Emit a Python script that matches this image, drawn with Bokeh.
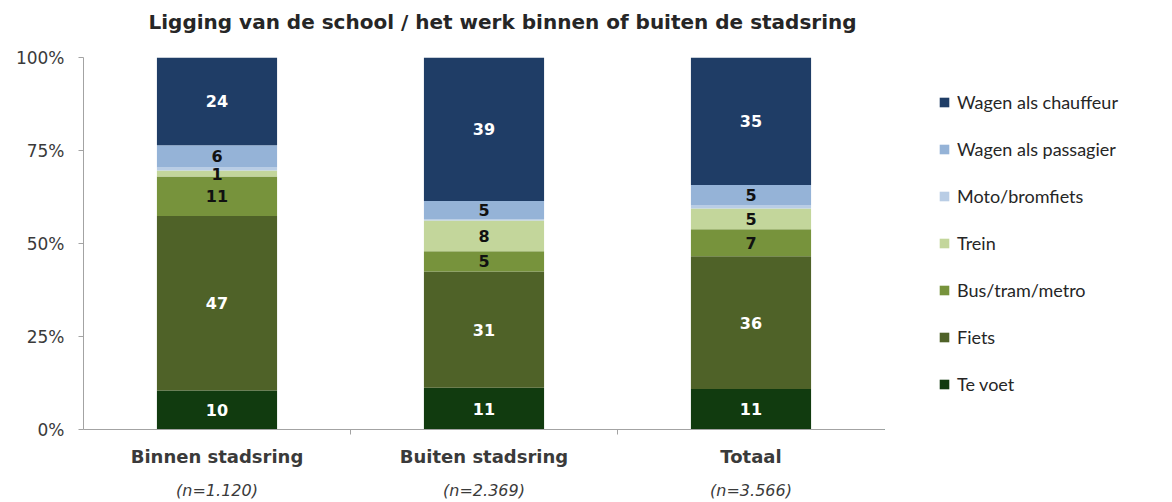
from bokeh.plotting import figure
from bokeh.layouts import row
from bokeh.models import (ColumnDataSource, FixedTicker, LinearAxis, Legend, LegendItem, Range1d, Title)
from bokeh.core.properties import value
from bokeh.embed import file_html
from bokeh.resources import INLINE

# ---- data (percent shares) ----
categories = ["Binnen stadsring", "Buiten stadsring", "Totaal"]
sample_sizes = ["(n=1.120)", "(n=2.369)", "(n=3.566)"]
modes = ["Te voet", "Fiets", "Bus/tram/metro", "Trein", "Moto/bromfiets",
         "Wagen als passagier", "Wagen als chauffeur"]

te_voet = [10.5, 11.2, 10.9]
fiets = [46.9, 31.3, 35.7]
bus_tram_metro = [10.6, 5.4, 7.2]
trein = [1.6, 8.3, 5.6]
moto_bromfiets = [0.8, 0.3, 0.8]
wagen_passagier = [6.0, 4.9, 5.5]
wagen_chauffeur = [23.6, 38.6, 34.3]

# labels printed inside the segments ("" = no label shown)
lbl_te_voet = ["10", "11", "11"]
lbl_fiets = ["47", "31", "36"]
lbl_bus = ["11", "5", "7"]
lbl_trein = ["1", "8", "5"]
lbl_moto = ["", "", ""]
lbl_passagier = ["6", "5", "5"]
lbl_chauffeur = ["24", "39", "35"]

y_ticks = [0, 25, 50, 75, 100]
y_tick_labels = ["0%", "25%", "50%", "75%", "100%"]

colors = ["#113B0F", "#4F6228", "#77933C", "#C3D69B", "#B9CDE5", "#95B3D7", "#1F3D66"]
label_colors = ["#FFFFFF", "#FFFFFF", "#111111", "#111111", "#111111", "#111111", "#FFFFFF"]

series = [te_voet, fiets, bus_tram_metro, trein, moto_bromfiets, wagen_passagier, wagen_chauffeur]
series_labels = [lbl_te_voet, lbl_fiets, lbl_bus, lbl_trein, lbl_moto, lbl_passagier, lbl_chauffeur]

xpos = [i + 0.5 for i in range(len(categories))]
data = {"x": xpos}
for m, s in zip(modes, series):
    data[m] = s
source = ColumnDataSource(data)

AXIS_COLOR = "#A3A3A3"
TEXT_COLOR = "#3A3A3A"
FONT = "DejaVu Sans"

p = figure(width=884, height=502, x_range=Range1d(0, 3), y_range=Range1d(0, 100),
           output_backend="svg", toolbar_location=None, x_axis_type=None, y_axis_type=None,
           min_border_left=83, min_border_right=0, min_border_top=57, min_border_bottom=72)
p.outline_line_color = None
p.background_fill_color = "white"
p.border_fill_color = "white"

# title (outermost) with a blank spacer title between it and the plot area
p.title.text = "Ligging van de school / het werk binnen of buiten de stadsring"
p.title.align = "left"
p.title.offset = 65
p.title.text_font = FONT
p.title.text_font_size = "20px"
p.title.text_font_style = "bold"
p.title.text_color = "#262626"
p.title.standoff = 0
p.title.vertical_align = "bottom"
spacer = Title(text=" ", text_font=FONT, text_font_size="19px", standoff=0)
p.add_layout(spacer, "above")

renderers = p.vbar_stack(modes, x="x", width=0.45, color=colors, source=source, line_color=None)

# segment labels
tx, ty, tt, tc = [], [], [], []
bottoms = [0.0] * len(categories)
for s, labs, col in zip(series, series_labels, label_colors):
    for i, v in enumerate(s):
        if labs[i]:
            tx.append(xpos[i]); ty.append(bottoms[i] + v / 2.0); tt.append(labs[i]); tc.append(col)
        bottoms[i] += v
lsrc = ColumnDataSource(dict(x=tx, y=ty, t=tt, c=tc))
p.text(x="x", y="y", text="t", text_color="c", source=lsrc, text_font=value(FONT),
       text_font_size="16px", text_font_style="bold", text_align="center", text_baseline="middle")

# y axis
yax = LinearAxis(ticker=FixedTicker(ticks=y_ticks))
yax.major_label_overrides = {t: l for t, l in zip(y_ticks, y_tick_labels)}
yax.axis_line_color = AXIS_COLOR
yax.major_tick_line_color = AXIS_COLOR
yax.major_tick_in = 0
yax.major_tick_out = 5
yax.minor_tick_line_color = None
yax.major_label_standoff = 14
yax.major_label_text_font = FONT
yax.major_label_text_font_size = "17px"
yax.major_label_text_color = TEXT_COLOR
p.add_layout(yax, "left")

# x axis with category names (ticks between categories)
xax = LinearAxis(ticker=FixedTicker(ticks=xpos, minor_ticks=[1, 2]))
xax.major_label_overrides = {x: c for x, c in zip(xpos, categories)}
xax.axis_line_color = AXIS_COLOR
xax.major_tick_line_color = None
xax.major_tick_in = 0
xax.major_tick_out = 0
xax.minor_tick_line_color = AXIS_COLOR
xax.minor_tick_in = 0
xax.minor_tick_out = 5
xax.major_label_standoff = 11
xax.major_label_text_font = FONT
xax.major_label_text_font_size = "18px"
xax.major_label_text_font_style = "bold"
xax.major_label_text_color = TEXT_COLOR
p.add_layout(xax, "below")

# second x axis: sample sizes
nax = LinearAxis(ticker=FixedTicker(ticks=xpos))
nax.major_label_overrides = {x: n for x, n in zip(xpos, sample_sizes)}
nax.axis_line_color = None
nax.major_tick_line_color = None
nax.minor_tick_line_color = None
nax.major_tick_in = 0
nax.major_tick_out = 0
nax.major_label_standoff = 11
nax.major_label_text_font = FONT
nax.major_label_text_font_size = "16px"
nax.major_label_text_font_style = "italic"
nax.major_label_text_color = TEXT_COLOR
p.add_layout(nax, "below")

# grid
p.ygrid.ticker = FixedTicker(ticks=y_ticks)
p.ygrid.grid_line_color = AXIS_COLOR
p.ygrid.grid_line_width = 1
p.xgrid.grid_line_color = None

# legend panel: a second figure; its bars (same data) lie far outside its view,
# so only the legend swatches and labels are visible
lp = figure(width=288, height=502, x_range=Range1d(1000, 1003), y_range=Range1d(1000, 1100),
            output_backend="svg", toolbar_location=None, x_axis_type=None, y_axis_type=None,
            min_border=0)
lp.outline_line_color = None
lp.xgrid.grid_line_color = None
lp.ygrid.grid_line_color = None
lrenderers = lp.vbar_stack(modes, x="x", width=0.45, color=colors, source=source, line_color=None)

items = [LegendItem(label=m, renderers=[r]) for m, r in zip(modes, lrenderers)][::-1]
legend = Legend(items=items, location=(54, 34), orientation="vertical")
legend.glyph_width = 12
legend.glyph_height = 12
legend.label_height = 22
legend.spacing = 25
legend.label_standoff = 7
legend.padding = 0
legend.margin = 0
legend.border_line_color = None
legend.background_fill_alpha = 0
legend.label_text_font = "Lato"
legend.label_text_font_size = "18px"
legend.label_text_color = "#262626"
lp.add_layout(legend, "center")

layout = row(p, lp)
open("out.html", "w").write(file_html(layout, INLINE))
